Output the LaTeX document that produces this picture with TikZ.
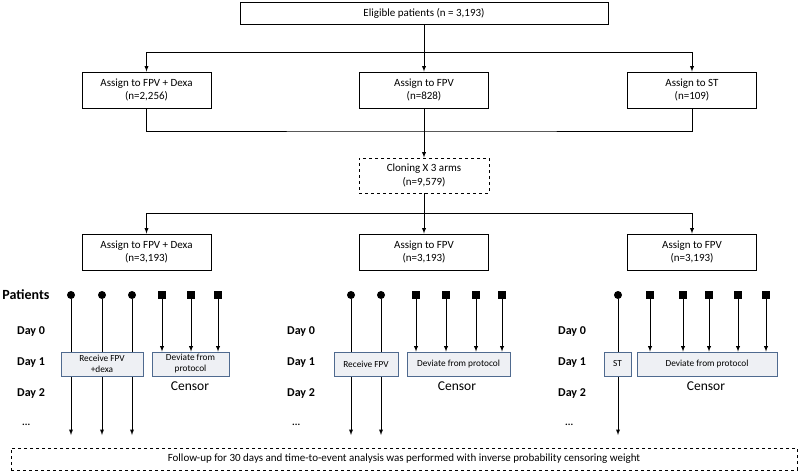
\documentclass[tikz,border=0pt]{standalone}
\usepackage{fontspec}
\setmainfont{Carlito}
\usepackage{tikz}
\usetikzlibrary{arrows}
\usepackage{xcolor}

\definecolor{boxfill}{HTML}{EEF0F4}
\definecolor{boxline}{HTML}{4F6A8F}

\tikzset{
	armbox/.style={draw, line width=0.9pt, minimum width=129pt, minimum height=36pt, align=center, inner sep=1pt, font=\fontsize{11}{13.5}\selectfont},
	daybox/.style={draw=boxline, fill=boxfill, line width=0.8pt, minimum height=24pt, align=center, inner sep=1pt, font=\fontsize{9.3}{11}\selectfont},
	daylabel/.style={anchor=west, inner sep=0pt, font=\fontsize{12}{14}\selectfont\bfseries},
	censorlabel/.style={inner sep=0pt, font=\fontsize{13.5}{16}\selectfont},
	dot/.style={circle, fill=black, inner sep=0pt, minimum size=8pt},
	sq/.style={rectangle, fill=black, inner sep=0pt, minimum size=8pt},
	link/.style={line width=0.9pt}
}

\begin{document}
\begin{tikzpicture}[x=1pt, y=-1pt]
	\useasboundingbox (0,0) rectangle (800,472);
	
	% Flow chart boxes
	\node[armbox, minimum width=368pt, minimum height=22pt] (elig) at (424,13) {Eligible patients (n = 3,193)};
	\node[armbox] (orig1) at (146.5,90) {Assign to FPV + Dexa\\(n=2,256)};
	\node[armbox] (orig2) at (424,90) {Assign to FPV\\(n=828)};
	\node[armbox] (orig3) at (692,90) {Assign to ST\\(n=109)};
	\node[armbox, dashed, minimum width=130pt, minimum height=35pt] (clone) at (424,175.5) {Cloning X 3 arms\\(n=9,579)};
	\node[armbox] (arm1) at (146.5,252) {Assign to FPV + Dexa\\(n=3,193)};
	\node[armbox] (arm2) at (424,252) {Assign to FPV\\(n=3,193)};
	\node[armbox] (arm3) at (692,252) {Assign to FPV\\(n=3,193)};
	
	% Connectors
	\coordinate (split1) at (424,52);
	\coordinate (merge) at (424,131);
	\coordinate (split2) at (424,213);
	\draw[link, -latex] (elig.south) -- (orig2.north);
	\draw[link, -latex] (split1) -| (orig1.north);
	\draw[link, -latex] (split1) -| (orig3.north);
	\draw[link] (orig1.south) |- (merge) -| (orig3.south);
	\draw[link, -latex] (orig2.south) -- (clone.north);
	\draw[link, -latex] (clone.south) -- (arm2.north);
	\draw[link, -latex] (split2) -| (arm1.north);
	\draw[link, -latex] (split2) -| (arm3.north);
	
	% Row labels
	\node[inner sep=0pt, font=\fontsize{14}{16}\selectfont\bfseries] (patients) at (26,295) {Patients};
	\foreach \g/\x/\y in {1/17/22, 2/287/292, 3/558/565} {
		\node[daylabel] (dayA\g) at (\x,332) {Day 0};
		\node[daylabel] (dayB\g) at (\x,363) {Day 1};
		\node[daylabel] (dayC\g) at (\x,393) {Day 2};
		\node[daylabel, font=\fontsize{10}{12}\selectfont\bfseries] (dots\g) at (\y,425) {...};
	}
	
	% Patients who follow the protocol
	\foreach \i/\x in {1/71, 2/102, 3/132, 4/351, 5/381, 6/618} {
		\node[dot] (pt\i) at (\x,295) {};
		\coordinate (end\i) at (\x,435);
		\draw[link, -latex] (pt\i) -- (end\i);
	}
	
	% Day 1 boxes
	\node[daybox, minimum width=82pt] (recv1) at (102,364) {Receive FPV\\+dexa};
	\node[daybox, minimum width=77pt] (dev1) at (190.5,364) {Deviate from\\protocol};
	\node[daybox, minimum width=64pt] (recv2) at (366,364) {Receive FPV};
	\node[daybox, minimum width=103pt] (dev2) at (458.5,364) {Deviate from protocol};
	\node[daybox, minimum width=27pt] (recv3) at (617.5,364) {ST};
	\node[daybox, minimum width=140pt] (dev3) at (707,364) {Deviate from protocol};
	
	% Patients who deviate
	\foreach \i/\x/\d in {1/162/dev1, 2/191/dev1, 3/218/dev1, 4/416/dev2, 5/446/dev2, 6/476/dev2, 7/502/dev2, 8/650/dev3, 9/683/dev3, 10/709/dev3, 11/738/dev3, 12/766/dev3} {
		\node[sq] (cs\i) at (\x,295) {};
		\draw[link, -latex] (cs\i) -- (cs\i |- \d.north);
	}
	
	% Censor labels
	\node[censorlabel] (cens1) at (190,386) {Censor};
	\node[censorlabel] (cens2) at (457,386) {Censor};
	\node[censorlabel] (cens3) at (706,386) {Censor};
	
	% Follow-up
	\node[draw, dashed, line width=0.8pt, minimum width=786pt, minimum height=22pt, inner sep=0pt, font=\fontsize{11}{13}\selectfont] (follow) at (404,459) {Follow-up for 30 days and time-to-event analysis was performed with inverse probability censoring weight};
\end{tikzpicture}
\end{document}
